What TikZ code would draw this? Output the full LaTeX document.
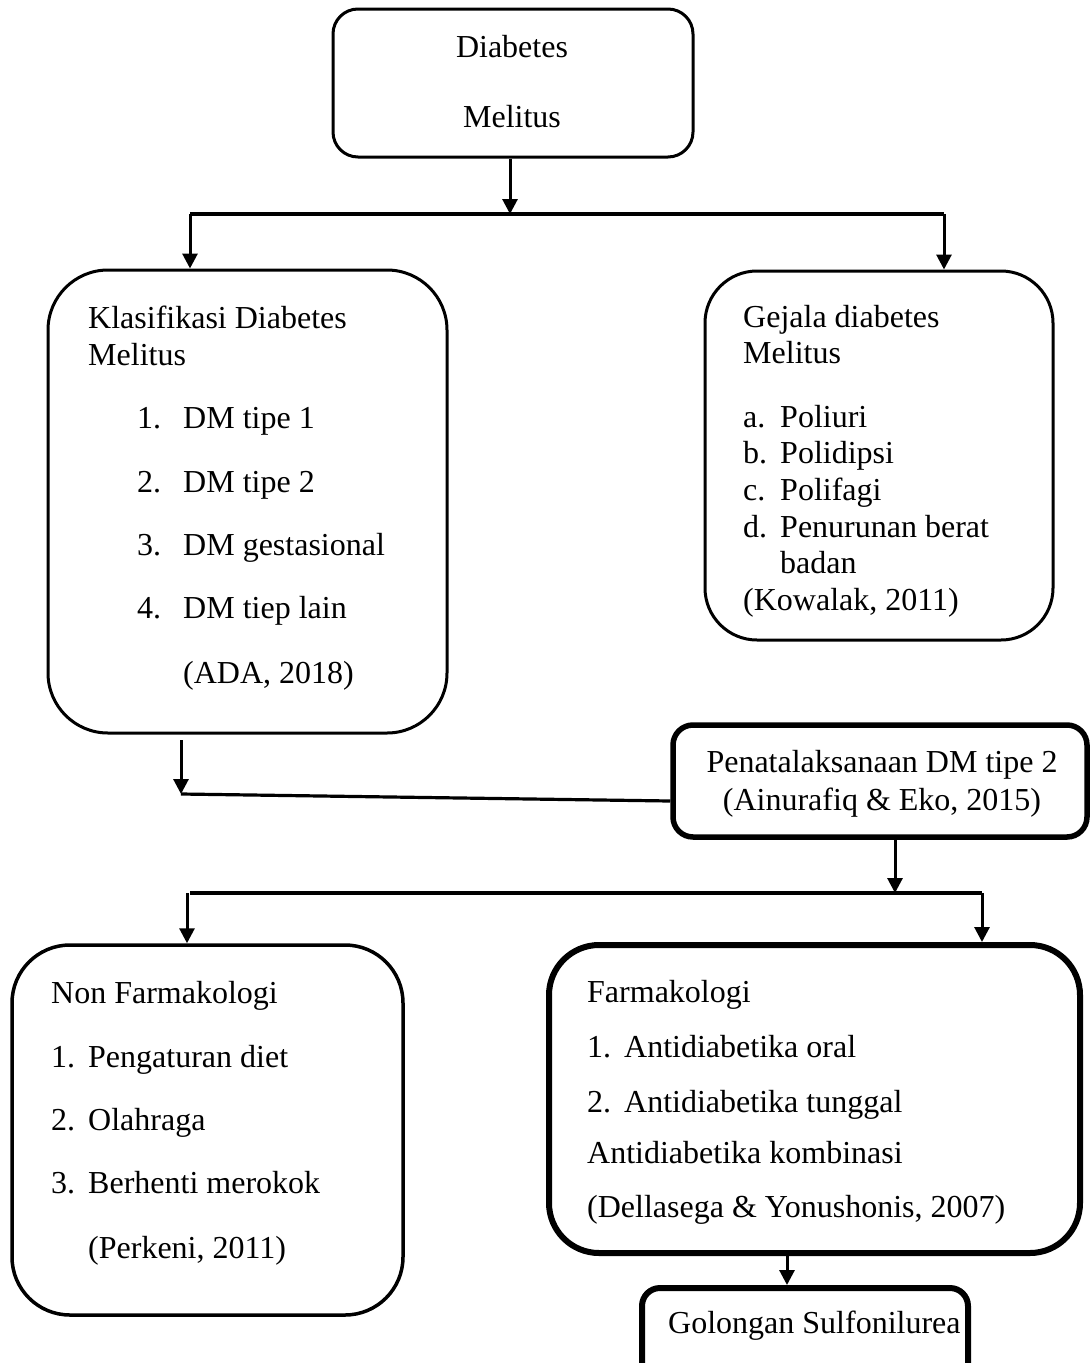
\documentclass[tikz,border=0pt]{standalone}
\usepackage{fontspec}
\setmainfont{Liberation Serif}
\usetikzlibrary{arrows.meta}
\begin{document}
\begin{tikzpicture}[x=1pt,y=-1pt,
  txt/.style={font=\fontsize{32}{36}\selectfont, inner sep=0pt, anchor=base west},
  ctxt/.style={font=\fontsize{32}{36}\selectfont, inner sep=0pt, anchor=base},
  boxA/.style={draw, rectangle, line width=3pt, inner sep=0pt},
  conn/.style={line width=3.2pt},
  arr/.style={line width=3pt, -{Triangle[length=15pt,width=15pt]}}
]
\useasboundingbox (0,0) rectangle (1090,1363);

% boxes
\node[boxA, rounded corners=25pt, minimum width=360pt, minimum height=148pt] (dm) at (513,83) {};
\node[boxA, rounded corners=60pt, minimum width=399pt, minimum height=463pt] (klas) at (247.5,501.5) {};
\node[boxA, rounded corners=52pt, minimum width=348pt, minimum height=369pt] (gej) at (879,455.5) {};
\node[boxA, line width=5.5pt, rounded corners=20pt, minimum width=414pt, minimum height=112pt] (pen) at (880,781) {};
\node[boxA, line width=3.5pt, rounded corners=58pt, minimum width=391pt, minimum height=370pt] (nonf) at (207.5,1130) {};
\node[boxA, line width=6pt, rounded corners=50pt, minimum width=531pt, minimum height=308pt] (farm) at (814.5,1099) {};
\node[boxA, line width=6pt, rounded corners=18pt, minimum width=326pt, minimum height=96pt] (gol) at (805,1336) {};

% texts: Diabetes Melitus
\node[ctxt] (dmA) at (512,57) {Diabetes};
\node[ctxt] (dmB) at (512,127) {Melitus};

% Klasifikasi
\node[txt] (kA) at (88,328) {Klasifikasi Diabetes};
\node[txt] (kB) at (88,365) {Melitus};
\node[txt] (kn1) at (137,428) {1.};
\node[txt] (ki1) at (183,428) {DM tipe 1};
\node[txt] (kn2) at (137,492) {2.};
\node[txt] (ki2) at (183,492) {DM tipe 2};
\node[txt] (kn3) at (137,555) {3.};
\node[txt] (ki3) at (183,555) {DM gestasional};
\node[txt] (kn4) at (137,618) {4.};
\node[txt] (ki4) at (183,618) {DM tiep lain};
\node[txt] (kref) at (183,683) {(ADA, 2018)};

% Gejala
\node[txt] (gA) at (743,327) {Gejala diabetes};
\node[txt] (gB) at (743,363) {Melitus};
\node[txt] (gn1) at (743,427) {a.};
\node[txt] (gi1) at (780,427) {Poliuri};
\node[txt] (gn2) at (743,463) {b.};
\node[txt] (gi2) at (780,463) {Polidipsi};
\node[txt] (gn3) at (743,500) {c.};
\node[txt] (gi3) at (780,500) {Polifagi};
\node[txt] (gn4) at (743,537) {d.};
\node[txt] (gi4) at (780,537) {Penurunan berat};
\node[txt] (gi4b) at (780,573) {badan};
\node[txt] (gref) at (743,610) {(Kowalak, 2011)};

% Penatalaksanaan
\node[ctxt] (pA) at (882,772) {Penatalaksanaan DM tipe 2};
\node[ctxt] (pB) at (882,810) {(Ainurafiq \& Eko, 2015)};

% Non Farmakologi
\node[txt] (nA) at (51,1003) {Non Farmakologi};
\node[txt] (nn1) at (51,1067) {1.};
\node[txt] (ni1) at (88,1067) {Pengaturan diet};
\node[txt] (nn2) at (51,1130) {2.};
\node[txt] (ni2) at (88,1130) {Olahraga};
\node[txt] (nn3) at (51,1193) {3.};
\node[txt] (ni3) at (88,1193) {Berhenti merokok};
\node[txt] (nref) at (88,1258) {(Perkeni, 2011)};

% Farmakologi
\node[txt] (fA) at (587,1002) {Farmakologi};
\node[txt] (fn1) at (587,1057) {1.};
\node[txt] (fi1) at (624,1057) {Antidiabetika oral};
\node[txt] (fn2) at (587,1112) {2.};
\node[txt] (fi2) at (624,1112) {Antidiabetika tunggal};
\node[txt] (fi3) at (587,1163) {Antidiabetika kombinasi};
\node[txt] (fref) at (587,1217) {(Dellasega \& Yonushonis, 2007)};

% Golongan
\node[txt] (golA) at (668,1333) {Golongan Sulfonilurea};

% connectors
\coordinate (j1) at (510,214);
\coordinate (h1l) at (190,214);
\coordinate (h1r) at (944,214);
\draw[arr] (dm.south -| j1) -- (j1);
\draw[conn] (h1l) -- (h1r);
\draw[arr] (h1l) -- (h1l |- klas.north);
\draw[arr] (h1r) -- (h1r |- gej.north);

\coordinate (k1) at (181,740);
\coordinate (k2) at (181,794);
\draw[arr] (k1) -- (k2);
\draw[conn] (k2) -- ([yshift=-20pt]pen.west);

\coordinate (j2) at (895,893);
\coordinate (h2l) at (190,893);
\coordinate (h2r) at (982,893);
\coordinate (h2a) at (187,893);
\draw[arr] (pen.south -| j2) -- (j2);
\draw[conn] (h2l) -- (h2r);
\draw[arr] (h2a) -- (h2a |- nonf.north);
\draw[arr] (h2r) -- (h2r |- farm.north);

\coordinate (f1) at (787,1253);
\draw[arr] (f1) -- (f1 |- gol.north);
\end{tikzpicture}
\end{document}
